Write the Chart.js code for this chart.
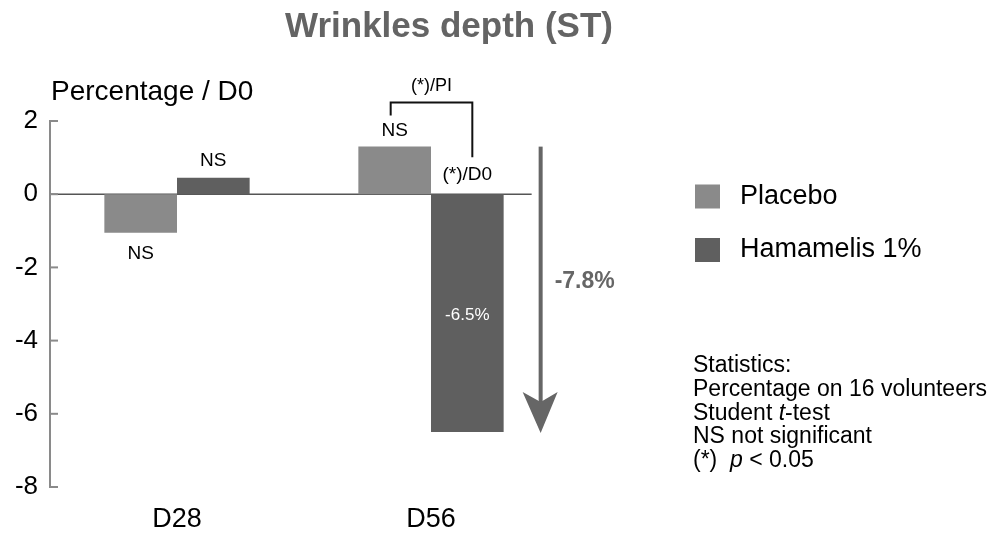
<!DOCTYPE html>
<html><head><meta charset="utf-8">
<script src="https://cdn.jsdelivr.net/npm/chart.js@4.4.1/dist/chart.umd.min.js"></script>
<style>html,body{margin:0;padding:0;background:#fff;}canvas{display:block}</style>
</head><body>
<canvas id="c" width="1004" height="533"></canvas>
<script>
const categories = ['D28', 'D56'];
const seriesNames = ['Placebo', 'Hamamelis 1%'];
const placebo = [-1.05, 1.3];
const hamamelis = [0.45, -6.5];
const placeboSig = ['NS', 'NS'];
const hamamelisSig = ['NS', '(*)/D0'];
const betweenSig = '(*)/PI';
const yTicks = [2, 0, -2, -4, -6, -8];
const chartTitle = 'Wrinkles depth (ST)';
const yTitle = 'Percentage / D0';
const colors = ['#8a8a8a', '#5f5f5f'];
const statLines = [
  [['Statistics:', false]],
  [['Percentage on 16 volunteers', false]],
  [['Student ', false], ['t', true], ['-test', false]],
  [['NS not significant', false]],
  [['(*)  ', false], ['p', true], [' < 0.05', false]]
];

const FONT = '"Liberation Sans", Arial, Helvetica, sans-serif';

const annot = {
  id: 'annot',
  beforeDatasetsDraw(chart) {
    const { ctx, scales: { y }, chartArea } = chart;
    const h1 = chart.getDatasetMeta(1).data[1];
    const y0 = y.getPixelForValue(0);
    ctx.save();
    ctx.strokeStyle = '#555';
    ctx.lineWidth = 1.5;
    ctx.beginPath();
    ctx.moveTo(chartArea.left, y0);
    ctx.lineTo(h1.x + h1.width / 2 + 28, y0);
    ctx.stroke();
    ctx.strokeStyle = '#8a8a8a';
    ctx.lineWidth = 2;
    y.ticks.forEach(t => {
      const py = y.getPixelForValue(t.value);
      ctx.beginPath();
      ctx.moveTo(chartArea.left - 1, py);
      ctx.lineTo(chartArea.left + 8, py);
      ctx.stroke();
    });
    ctx.restore();
  },
  afterDatasetsDraw(chart) {
    const { ctx, scales: { y } } = chart;
    const p0 = chart.getDatasetMeta(0).data[0];
    const p1 = chart.getDatasetMeta(0).data[1];
    const h0 = chart.getDatasetMeta(1).data[0];
    const h1 = chart.getDatasetMeta(1).data[1];
    ctx.save();
    ctx.textBaseline = 'middle';
    // title
    ctx.fillStyle = '#646464';
    ctx.font = 'bold 35px ' + FONT;
    ctx.textAlign = 'center';
    ctx.fillText(chartTitle, 449, 27);
    // y title
    ctx.fillStyle = '#000';
    ctx.font = '28px ' + FONT;
    ctx.textAlign = 'left';
    ctx.fillText(yTitle, 51, 92);
    // significance labels
    ctx.font = '19px ' + FONT;
    ctx.textAlign = 'center';
    ctx.fillText(placeboSig[0], p0.x, p0.y + 21);
    ctx.fillText(hamamelisSig[0], h0.x, h0.y - 17);
    ctx.fillText(placeboSig[1], p1.x, p1.y - 16);
    ctx.fillText(hamamelisSig[1], h1.x, h1.base - 19);
    // bracket
    const bl = p1.x - 4, br = h1.x + 5, bt = p1.y - 44;
    ctx.strokeStyle = '#111';
    ctx.lineWidth = 2;
    ctx.beginPath();
    ctx.moveTo(bl, p1.y - 31);
    ctx.lineTo(bl, bt);
    ctx.lineTo(br, bt);
    ctx.lineTo(br, h1.base - 37);
    ctx.stroke();
    ctx.font = '18px ' + FONT;
    ctx.fillText(betweenSig, (bl + br) / 2, bt - 17);
    // inside label
    ctx.fillStyle = '#fff';
    ctx.font = '17px ' + FONT;
    ctx.fillText(hamamelis[1].toFixed(1) + '%', h1.x, h1.base + 121);
    // arrow
    const ax = h1.x + h1.width / 2 + 37;
    const aTop = y.getPixelForValue(placebo[1]);
    const aTip = y.getPixelForValue(hamamelis[1]);
    ctx.fillStyle = '#666';
    ctx.fillRect(ax - 2, aTop, 4, aTip - aTop - 30);
    ctx.beginPath();
    ctx.moveTo(ax, aTip + 1);
    ctx.lineTo(ax - 18, aTip - 40);
    ctx.lineTo(ax, aTip - 30);
    ctx.lineTo(ax + 17, aTip - 40);
    ctx.closePath();
    ctx.fill();
    ctx.font = 'bold 23px ' + FONT;
    ctx.textAlign = 'left';
    ctx.fillText((hamamelis[1] - placebo[1]).toFixed(1) + '%', ax + 14, 282);
    // legend
    const legY = [196.5, 250];
    chart.data.datasets.forEach((ds, i) => {
      ctx.fillStyle = ds.backgroundColor;
      ctx.fillRect(695, legY[i] - 12, 25, 24);
      ctx.fillStyle = '#000';
      ctx.font = '27px ' + FONT;
      ctx.fillText(ds.label, 740, legY[i]);
    });
    // statistics
    statLines.forEach((line, i) => {
      let x = 693;
      const yy = 366 + i * 23.6;
      line.forEach(([txt, it]) => {
        ctx.font = (it ? 'italic ' : '') + '23px ' + FONT;
        ctx.fillText(txt, x, yy);
        x += ctx.measureText(txt).width;
      });
    });
    ctx.restore();
  }
};

new Chart(document.getElementById('c'), {
  type: 'bar',
  data: {
    labels: categories,
    datasets: [
      { label: seriesNames[0], data: placebo, backgroundColor: colors[0], borderWidth: 0, categoryPercentage: 0.572, barPercentage: 1.0 },
      { label: seriesNames[1], data: hamamelis, backgroundColor: colors[1], borderWidth: 0, categoryPercentage: 0.572, barPercentage: 1.0 }
    ]
  },
  options: {
    responsive: false,
    animation: false,
    layout: { padding: { top: 121, right: 446, bottom: 0, left: 0 } },
    plugins: { legend: { display: false }, tooltip: { enabled: false }, title: { display: false } },
    scales: {
      x: {
        grid: { display: false, drawTicks: false },
        border: { display: false },
        ticks: { color: '#000', font: { family: FONT, size: 27 }, padding: 16 },
        afterFit: s => { s.height = 46; }
      },
      y: {
        min: -8, max: 2,
        afterBuildTicks: s => { s.ticks = yTicks.map(v => ({ value: v })); },
        grid: { display: false, drawTicks: false },
        border: { display: true, color: '#8a8a8a', width: 2 },
        ticks: { color: '#000', font: { family: FONT, size: 26 }, padding: 12 },
        afterFit: s => { s.width = 50; }
      }
    }
  },
  plugins: [annot]
});
</script>
</body></html>
